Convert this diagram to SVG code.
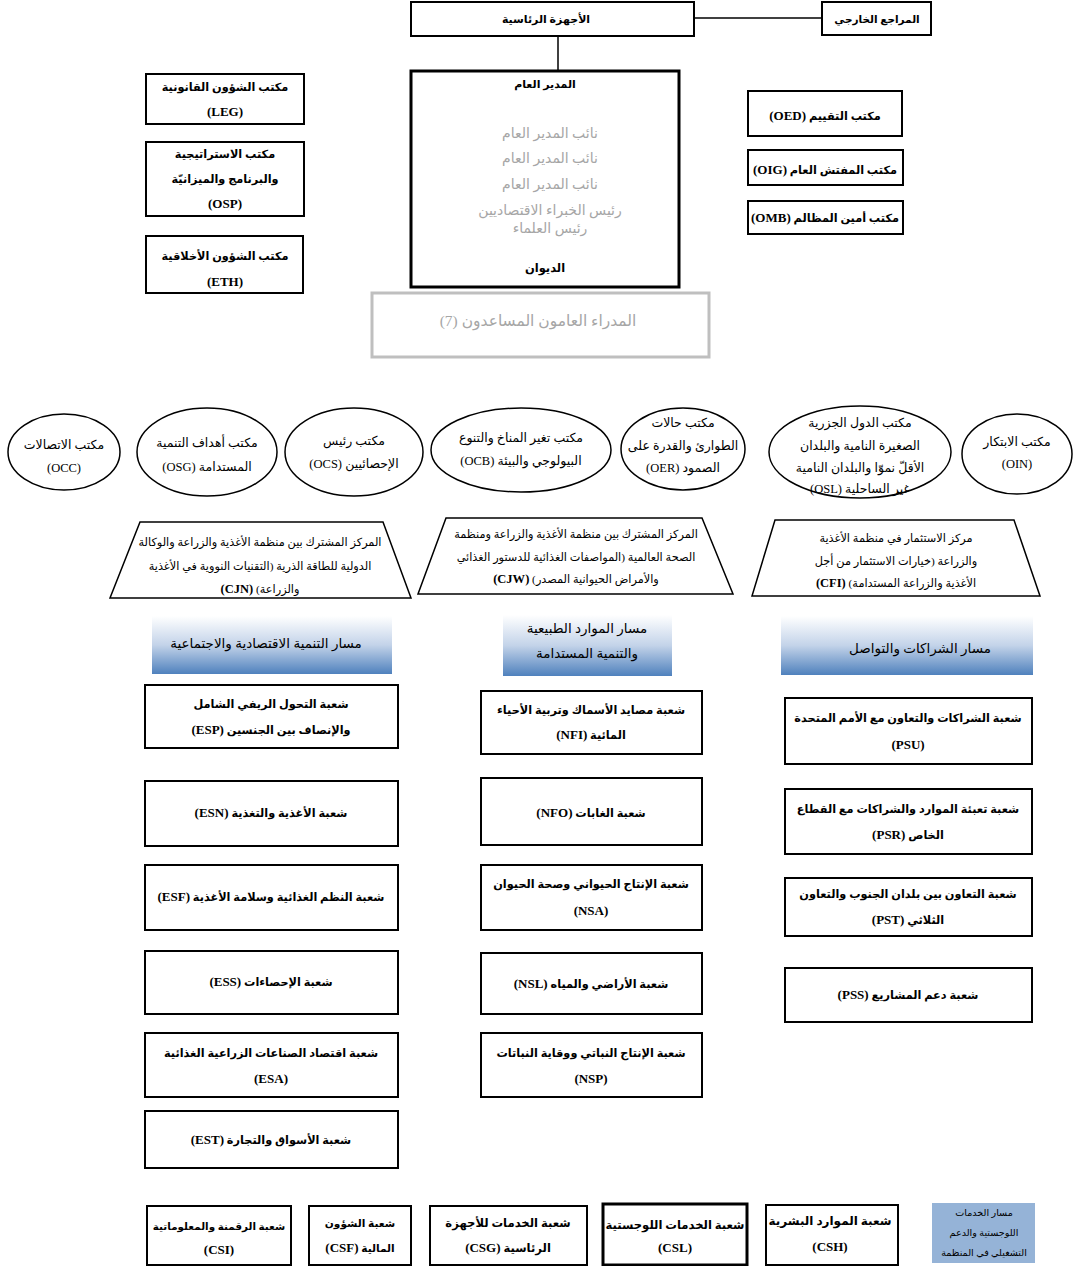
<svg xmlns="http://www.w3.org/2000/svg" width="1078" height="1266" viewBox="0 0 1078 1266">
<defs>
<linearGradient id="hdr" x1="0" y1="0" x2="0" y2="1">
<stop offset="0" stop-color="#ffffff"/>
<stop offset="0.5" stop-color="#c3d3e9"/>
<stop offset="1" stop-color="#4f81bd"/>
</linearGradient>
</defs>
<style>
.bx{fill:#fff;stroke:#000;stroke-width:2}
.bk{fill:#fff;stroke:#000;stroke-width:3}
.el{fill:#fff;stroke:#000;stroke-width:1.5}
.tz{fill:#fff;stroke:#000;stroke-width:1.5}
.hd{fill:url(#hdr);stroke:none}
.t{font-family:'Liberation Serif','DejaVu Sans',serif;font-size:11.3px;font-weight:bold;text-anchor:middle;direction:rtl;fill:#000}
.L{font-size:13px}
.n{font-family:'Liberation Serif','DejaVu Sans',serif;font-size:12.5px;font-weight:normal;text-anchor:middle;direction:rtl;fill:#000}
.z{font-family:'Liberation Serif','DejaVu Sans',serif;font-size:11.3px;font-weight:normal;text-anchor:middle;direction:rtl;fill:#000}
.gr{font-family:'Liberation Serif','DejaVu Sans',serif;font-size:14px;font-weight:normal;text-anchor:middle;direction:rtl;fill:#a6a6a6}
.h{font-family:'Liberation Serif','DejaVu Sans',serif;font-size:13.5px;font-weight:normal;text-anchor:middle;direction:rtl;fill:#000}
.s{font-family:'Liberation Serif','DejaVu Sans',serif;font-size:9.6px;font-weight:normal;text-anchor:middle;direction:rtl;fill:#000}
.ln{stroke:#000;stroke-width:1.5;fill:none}
</style>
<rect width="1078" height="1266" fill="#fff"/>

<g id="connectors">
<line class="ln" x1="694" y1="18" x2="822" y2="18"/>
<line class="ln" x1="558" y1="36" x2="558" y2="71"/>
</g>

<g id="governing-bodies"><rect class="bx" x="411" y="2" width="283" height="34"/><text class="t" x="546" y="23" style="font-size:11px">الأجهزة الرئاسية</text></g>
<g id="external-auditor"><rect class="bx" x="822" y="2" width="109" height="33"/><text class="t" x="877" y="23" style="font-size:10.5px">المراجع الخارجي</text></g>

<g id="dg"><rect class="bk" x="411" y="71" width="268" height="216"/>
<text class="t" x="545" y="88" style="font-size:11px">المدير العام</text>
<text class="gr" x="550" y="138">نائب المدير العام</text>
<text class="gr" x="550" y="163">نائب المدير العام</text>
<text class="gr" x="550" y="189">نائب المدير العام</text>
<text class="gr" x="550" y="215">رئيس الخبراء الاقتصاديين</text>
<text class="gr" x="550" y="233">رئيس العلماء</text>
<text class="t" x="545" y="272" style="font-size:11.5px">الديوان</text></g>

<g id="adg"><rect x="372" y="293" width="337" height="64" fill="#fff" stroke="#bfbfbf" stroke-width="3"/><text class="gr" x="538" y="326" style="font-size:15.5px">المدراء العامون المساعدون (7)</text></g>

<g id="leg"><rect class="bx" x="146" y="74" width="158" height="50"/><text class="t" x="225" y="91">مكتب الشؤون القانونية</text><text class="t L" x="225" y="116" direction="ltr">(LEG)</text></g>
<g id="osp"><rect class="bx" x="146" y="142" width="158" height="74"/><text class="t" x="225" y="158">مكتب الاستراتيجية</text><text class="t" x="225" y="183">والبرنامج والميزانيّة</text><text class="t L" x="225" y="208" direction="ltr">(OSP)</text></g>
<g id="eth"><rect class="bx" x="146" y="236" width="157" height="57"/><text class="t" x="225" y="260">مكتب الشؤون الأخلاقية</text><text class="t L" x="225" y="286" direction="ltr">(ETH)</text></g>

<g id="oed"><rect class="bx" x="748" y="91" width="154" height="45"/><text class="t" x="825" y="120">مكتب التقييم <tspan class="L">(OED)</tspan></text></g>
<g id="oig"><rect class="bx" x="748" y="150" width="155" height="35"/><text class="t" x="825" y="174">مكتب المفتش العام <tspan class="L">(OIG)</tspan></text></g>
<g id="omb"><rect class="bx" x="748" y="201" width="155" height="33"/><text class="t" x="825" y="222">مكتب أمين المظالم <tspan class="L">(OMB)</tspan></text></g>

<g id="occ"><ellipse class="el" cx="64" cy="452" rx="56" ry="38"/><text class="n" x="64" y="449">مكتب الاتصالات</text><text class="n" x="64" y="472" direction="ltr">(OCC)</text></g>
<g id="osg"><ellipse class="el" cx="207" cy="452" rx="70" ry="44"/><text class="n" x="207" y="447">مكتب أهداف التنمية</text><text class="n" x="207" y="471">المستدامة (OSG)</text></g>
<g id="ocs"><ellipse class="el" cx="354" cy="452" rx="69" ry="44"/><text class="n" x="354" y="445">مكتب رئيس</text><text class="n" x="354" y="468">الإحصائيين (OCS)</text></g>
<g id="ocb"><ellipse class="el" cx="521" cy="450" rx="90" ry="42"/><text class="n" x="521" y="442">مكتب تغير المناخ والتنوع</text><text class="n" x="521" y="465">البيولوجي والبيئة (OCB)</text></g>
<g id="oer"><ellipse class="el" cx="683" cy="449" rx="62" ry="41"/><text class="n" x="683" y="427">مكتب حالات</text><text class="n" x="683" y="450">الطوارئ والقدرة على</text><text class="n" x="683" y="472">الصمود (OER)</text></g>
<g id="osl"><ellipse class="el" cx="860" cy="452" rx="91" ry="46"/><text class="n" x="860" y="427">مكتب الدول الجزرية</text><text class="n" x="860" y="450">الصغيرة النامية والبلدان</text><text class="n" x="860" y="472">الأقلّ نموّا والبلدان النامية</text><text class="n" x="860" y="493">غير الساحلية (OSL)</text></g>
<g id="oin"><ellipse class="el" cx="1017" cy="454" rx="55" ry="40"/><text class="n" x="1017" y="446">مكتب الابتكار</text><text class="n" x="1017" y="468" direction="ltr">(OIN)</text></g>

<g id="cjn"><polygon class="tz" points="140,522 383,522 411,598 110,598"/><text class="z" x="260" y="546">المركز المشترك بين منظمة الأغذية والزراعة والوكالة</text><text class="z" x="260" y="570">الدولية للطاقة الذرية (التقنيات النووية في الأغذية</text><text class="z" x="260" y="593">والزراعة) <tspan style="font-weight:bold;font-size:12.5px">(CJN)</tspan></text></g>
<g id="cjw"><polygon class="tz" points="446,518 702,518 733,594 418,594"/><text class="z" x="576" y="538">المركز المشترك بين منظمة الأغذية والزراعة ومنظمة</text><text class="z" x="576" y="561">الصحة العالمية (المواصفات الغذائية للدستور الغذائي</text><text class="z" x="576" y="583">والأمراض الحيوانية المصدر) <tspan style="font-weight:bold;font-size:12.5px">(CJW)</tspan></text></g>
<g id="cfi"><polygon class="tz" points="775,520 1014,520 1040,596 752,596"/><text class="z" x="896" y="542">مركز الاستثمار في منظمة الأغذية</text><text class="z" x="896" y="565">والزراعة (خيارات الاستثمار من أجل</text><text class="z" x="896" y="587">الأغذية والزراعة المستدامة) <tspan style="font-weight:bold;font-size:12.5px">(CFI)</tspan></text></g>

<g id="track-esd"><rect class="hd" x="152" y="616" width="240" height="58"/><text class="h" x="266" y="648">مسار التنمية الاقتصادية والاجتماعية</text></g>
<g id="track-nrsd"><rect class="hd" x="503" y="615" width="169" height="61"/><text class="h" x="587" y="633">مسار الموارد الطبيعية</text><text class="h" x="587" y="658">والتنمية المستدامة</text></g>
<g id="track-poc"><rect class="hd" x="781" y="616" width="252" height="59"/><text class="h" x="920" y="653">مسار الشراكات والتواصل</text></g>

<g id="esp"><rect class="bx" x="145" y="685" width="253" height="63"/><text class="t" x="271" y="708">شعبة التحول الريفي الشامل</text><text class="t" x="271" y="734">والإنصاف بين الجنسين <tspan class="L">(ESP)</tspan></text></g>
<g id="esn"><rect class="bx" x="145" y="781" width="253" height="65"/><text class="t" x="271" y="817">شعبة الأغذية والتغذية <tspan class="L">(ESN)</tspan></text></g>
<g id="esf"><rect class="bx" x="145" y="865" width="253" height="65"/><text class="t" x="271" y="901">شعبة النظم الغذائية وسلامة الأغذية <tspan class="L">(ESF)</tspan></text></g>
<g id="ess"><rect class="bx" x="145" y="951" width="253" height="63"/><text class="t" x="271" y="986">شعبة الإحصاءات <tspan class="L">(ESS)</tspan></text></g>
<g id="esa"><rect class="bx" x="145" y="1033" width="253" height="64"/><text class="t" x="271" y="1057">شعبة اقتصاد الصناعات الزراعية الغذائية</text><text class="t L" x="271" y="1083" direction="ltr">(ESA)</text></g>
<g id="est"><rect class="bx" x="145" y="1111" width="253" height="57"/><text class="t" x="271" y="1144">شعبة الأسواق والتجارة <tspan class="L">(EST)</tspan></text></g>

<g id="nfi"><rect class="bx" x="481" y="691" width="221" height="63"/><text class="t" x="591" y="714">شعبة مصايد الأسماك وتربية الأحياء</text><text class="t" x="591" y="739">المائية <tspan class="L">(NFI)</tspan></text></g>
<g id="nfo"><rect class="bx" x="481" y="778" width="221" height="67"/><text class="t" x="591" y="817">شعبة الغابات <tspan class="L">(NFO)</tspan></text></g>
<g id="nsa"><rect class="bx" x="481" y="865" width="221" height="65"/><text class="t" x="591" y="888">شعبة الإنتاج الحيواني وصحة الحيوان</text><text class="t L" x="591" y="915" direction="ltr">(NSA)</text></g>
<g id="nsl"><rect class="bx" x="481" y="953" width="221" height="61"/><text class="t" x="591" y="988">شعبة الأراضي والمياه <tspan class="L">(NSL)</tspan></text></g>
<g id="nsp"><rect class="bx" x="481" y="1033" width="221" height="64"/><text class="t" x="591" y="1057">شعبة الإنتاج النباتي ووقاية النباتات</text><text class="t L" x="591" y="1083" direction="ltr">(NSP)</text></g>

<g id="psu"><rect class="bx" x="785" y="698" width="247" height="66"/><text class="t" x="908" y="722">شعبة الشراكات والتعاون مع الأمم المتحدة</text><text class="t L" x="908" y="749" direction="ltr">(PSU)</text></g>
<g id="psr"><rect class="bx" x="785" y="789" width="247" height="65"/><text class="t" x="908" y="813">شعبة تعبئة الموارد والشراكات مع القطاع</text><text class="t" x="908" y="839">الخاص <tspan class="L">(PSR)</tspan></text></g>
<g id="pst"><rect class="bx" x="785" y="878" width="247" height="58"/><text class="t" x="908" y="898">شعبة التعاون بين بلدان الجنوب والتعاون</text><text class="t" x="908" y="924">الثلاثي <tspan class="L">(PST)</tspan></text></g>
<g id="pss"><rect class="bx" x="785" y="968" width="247" height="54"/><text class="t" x="908" y="999">شعبة دعم المشاريع <tspan class="L">(PSS)</tspan></text></g>

<g id="csi"><rect class="bx" x="147" y="1206" width="144" height="59"/><text class="t" x="219" y="1230" style="font-size:10.4px">شعبة الرقمنة والمعلوماتية</text><text class="t L" x="219" y="1254" direction="ltr">(CSI)</text></g>
<g id="csf"><rect class="bx" x="309" y="1206" width="102" height="59"/><text class="t" x="360" y="1227" style="font-size:10.6px">شعبة الشؤون</text><text class="t" x="360" y="1252" style="font-size:10.6px">المالية <tspan class="L">(CSF)</tspan></text></g>
<g id="csg"><rect class="bx" x="430" y="1206" width="157" height="59"/><text class="t" x="508" y="1227" style="font-size:11.6px">شعبة الخدمات للأجهزة</text><text class="t" x="508" y="1252" style="font-size:11.6px">الرئاسية <tspan class="L">(CSG)</tspan></text></g>
<g id="csl"><rect class="bk" x="603" y="1204" width="144" height="61"/><text class="t" x="675" y="1229" style="font-size:11.6px">شعبة الخدمات اللوجستية</text><text class="t L" x="675" y="1252" direction="ltr">(CSL)</text></g>
<g id="csh"><rect class="bx" x="766" y="1205" width="132" height="60"/><text class="t" x="830" y="1225" style="font-size:12px">شعبة الموارد البشرية</text><text class="t L" x="830" y="1251" direction="ltr">(CSH)</text></g>
<g id="track-csod"><rect x="932" y="1203" width="103" height="60" fill="#95b3d7"/><text class="s" x="984" y="1216">مسار الخدمات</text><text class="s" x="984" y="1236">اللوجستية والدعم</text><text class="s" x="984" y="1256">التشغيلي في المنظمة</text></g>
</svg>
